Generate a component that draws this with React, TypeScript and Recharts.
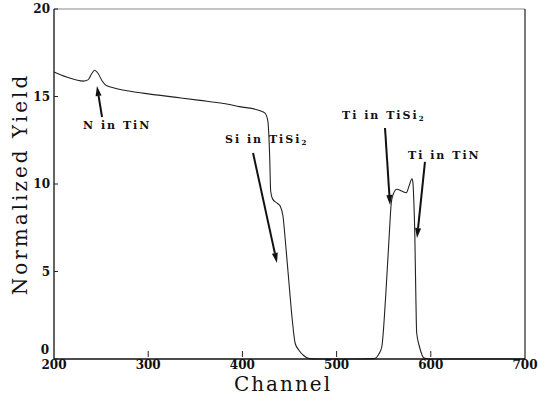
import {
  LineChart,
  Line,
  XAxis,
  YAxis,
  ReferenceLine,
  ReferenceDot,
} from "recharts";

// RBS spectrum of TiN / TiSi2 on Si
const channels = [
  200, 214, 231, 236, 240, 243, 247, 251, 255, 263, 281, 300, 330, 355, 380,
  397, 418, 424, 427, 429, 430, 432, 437, 440, 443, 446, 450, 453, 456, 460,
  465, 471, 480, 500, 520, 540, 545, 548, 552, 556, 558, 560, 564, 569, 574,
  577, 580, 581, 582, 583, 584, 585, 588, 593, 600, 650, 700,
];
const yields = [
  16.4, 16.1, 15.88, 15.95, 16.3, 16.5, 16.3, 15.9, 15.65, 15.5, 15.3, 15.15,
  14.95, 14.78, 14.6, 14.42, 14.2, 14.05, 13.6, 11.5, 9.6, 9.15, 8.9, 8.75, 8.2,
  6.5, 4.0, 2.2, 0.9, 0.5, 0.2, 0.02, 0, 0, 0, 0.02, 0.3, 0.7, 3.5, 7.2, 8.9,
  9.4, 9.7, 9.6, 9.5, 9.9, 10.3, 10.1, 9.0, 7.2, 4.0, 1.5, 0.7, 0.05, 0, 0, 0,
];

const xTicks = [200, 300, 400, 500, 600, 700];
const yTicks = [0, 5, 10, 15, 20];

// peak annotations (data units)
const noteText = ["N in TiN", "Si in TiSi", "Ti in TiSi", "Ti in TiN"];
const noteSub = ["", "2", "2", ""];
const noteX = [230.8, 381.5, 505.7, 575.8];
const noteY = [13.14, 12.34, 13.71, 11.43];
const arrowFromX = [251, 411.3, 551.4, 593.8];
const arrowFromY = [13.83, 11.77, 13.2, 11.26];
const arrowToX = [245.6, 436.7, 556.7, 585.4];
const arrowToY = [15.6, 5.49, 8.8, 6.91];

const data = channels.map((c, i) => ({ channel: c, yield: yields[i] }));

const SERIF = "'DejaVu Serif', 'Liberation Serif', serif";

function YTick(props: any) {
  const { x, y, payload } = props;
  // the zero label sits just above the corner, clear of "200"
  const isZero = payload.value === 0;
  return (
    <g>
      <line x1={x + 4} x2={x + 8} y1={y} y2={y} stroke="#222" strokeWidth={1} />
      <text
        x={isZero ? x - 1 : x}
        y={isZero ? y - 9 : y}
        textAnchor="end"
        dominantBaseline="central"
        fontFamily={SERIF}
        fontWeight="bold"
        fontSize={12}
        fill="#111"
      >
        {payload.value}
      </text>
    </g>
  );
}

function XTick(props: any) {
  const { x, y, payload } = props;
  const inner = payload.value !== 200 && payload.value !== 700;
  return (
    <g>
      {inner && (
        <line x1={x} x2={x} y1={y - 2} y2={y - 8} stroke="#222" strokeWidth={1} />
      )}
      <text
        x={x}
        y={y + 10}
        textAnchor="middle"
        fontFamily={SERIF}
        fontWeight="bold"
        fontSize={12}
        fill="#111"
      >
        {payload.value}
      </text>
    </g>
  );
}

function Arrow(props: any) {
  const { x1, y1, x2, y2 } = props;
  const dx = x2 - x1;
  const dy = y2 - y1;
  const len = Math.sqrt(dx * dx + dy * dy) || 1;
  const ux = dx / len;
  const uy = dy / len;
  const hl = 10;
  const hw = 3;
  const bx = x2 - ux * hl;
  const by = y2 - uy * hl;
  return (
    <g>
      <line x1={x1} y1={y1} x2={bx} y2={by} stroke="#111" strokeWidth={2} />
      <polygon
        points={`${x2},${y2} ${bx - uy * hw},${by + ux * hw} ${bx + uy * hw},${by - ux * hw}`}
        fill="#111"
      />
    </g>
  );
}

function noteShape(i: number) {
  return (props: any) => (
    <text
      x={props.cx}
      y={props.cy}
      fontFamily={SERIF}
      fontWeight="bold"
      fontSize={11}
      letterSpacing={2}
      fill="#111"
    >
      {noteText[i]}
      {noteSub[i] && (
        <tspan fontSize={7} dy={2}>
          {noteSub[i]}
        </tspan>
      )}
    </text>
  );
}

export default function App() {
  return (
    <div style={{ position: "absolute", left: 0, top: 0, background: "#fff" }}>
      <LineChart
        width={547}
        height={397}
        data={data}
        margin={{ top: 9, right: 22, left: 0, bottom: 0 }}
      >
        <XAxis
          dataKey="channel"
          type="number"
          domain={[200, 700]}
          ticks={xTicks}
          interval={0}
          height={38}
          tickSize={0}
          tickMargin={0}
          tick={<XTick />}
          stroke="#111"
          strokeWidth={1.3}
          label={{
            content: () => (
              <text
                x={283}
                y={391}
                textAnchor="middle"
                fontFamily={SERIF}
                fontSize={20}
                letterSpacing={2}
                fill="#111"
              >
                Channel
              </text>
            ),
          }}
        />
        <YAxis
          type="number"
          domain={[0, 20]}
          ticks={yTicks}
          interval={0}
          width={54}
          tickSize={0}
          tickMargin={4}
          tick={<YTick />}
          stroke="#111"
          strokeWidth={1.3}
          label={{
            content: () => (
              <text
                x={27}
                y={184}
                transform="rotate(-90, 27, 184)"
                textAnchor="middle"
                fontFamily={SERIF}
                fontSize={20}
                letterSpacing={3}
                fill="#111"
              >
                Normalized Yield
              </text>
            ),
          }}
        />
        <ReferenceLine y={20} stroke="#8a8a8a" strokeWidth={1.2} />
        <ReferenceLine x={700} stroke="#333" strokeWidth={1.3} />
        <Line
          type="monotone"
          dataKey="yield"
          stroke="#222"
          strokeWidth={1.1}
          dot={false}
          isAnimationActive={false}
        />
        {noteText.map((_, i) => (
          <ReferenceLine
            key={`a${i}`}
            segment={[
              { x: arrowFromX[i], y: arrowFromY[i] },
              { x: arrowToX[i], y: arrowToY[i] },
            ]}
            shape={<Arrow />}
            ifOverflow="visible"
          />
        ))}
        {noteText.map((_, i) => (
          <ReferenceDot
            key={`n${i}`}
            x={noteX[i]}
            y={noteY[i]}
            r={0}
            shape={noteShape(i)}
            ifOverflow="visible"
          />
        ))}
      </LineChart>
    </div>
  );
}
